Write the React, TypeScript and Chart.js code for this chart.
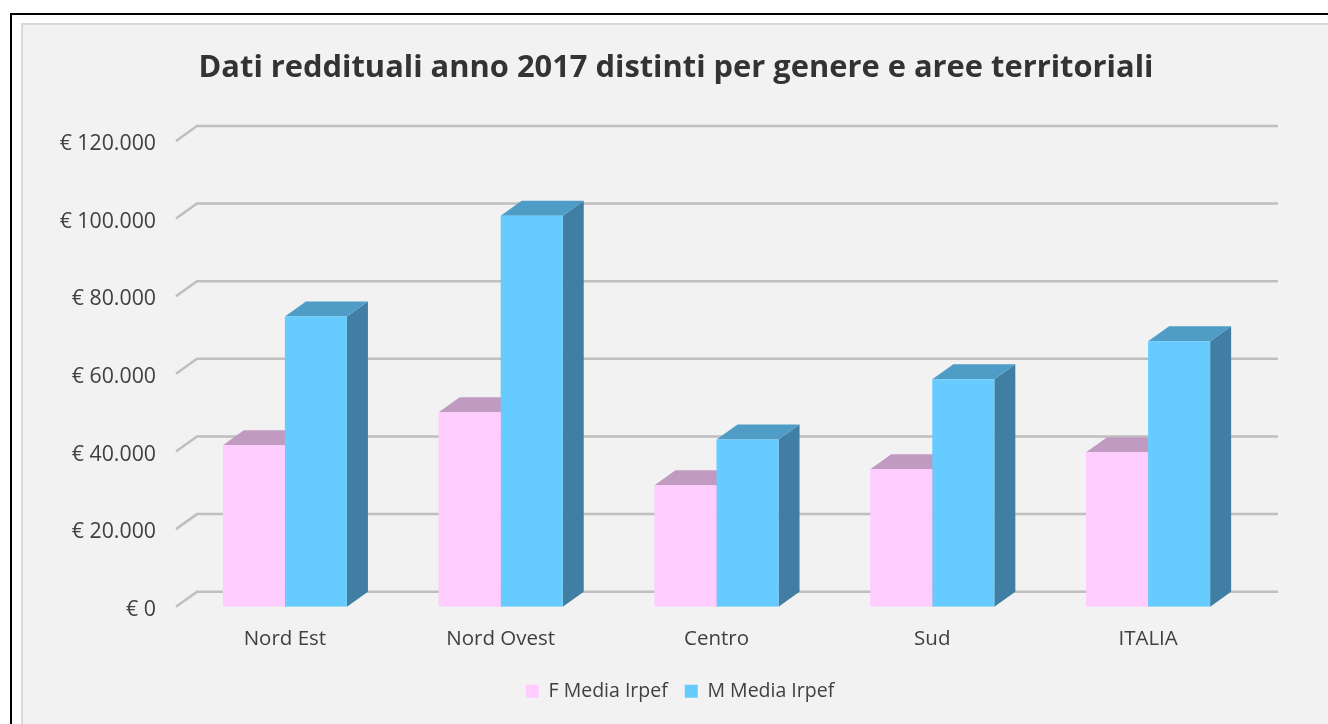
import React, { useEffect, useRef } from "react";
import { Chart, registerables } from "chart.js";

Chart.register(...registerables);

const categories = ["Nord Est", "Nord Ovest", "Centro", "Sud", "ITALIA"];
const femaleValues = [41600, 50100, 31300, 35400, 39800];
const maleValues = [74800, 100700, 43100, 58600, 68400];

const DEPTH_X = 21;
const DEPTH_Y = 15;

const faceColors = [
  { top: "#C09AC0", side: "#A884A8" },
  { top: "#4F9DC7", side: "#407FA3" },
];

const poly = (ctx: CanvasRenderingContext2D, pts: number[][], fill: string) => {
  ctx.beginPath();
  pts.forEach(([x, y], i) => (i ? ctx.lineTo(x, y) : ctx.moveTo(x, y)));
  ctx.closePath();
  ctx.fillStyle = fill;
  ctx.fill();
};

const depthPlugin = {
  id: "depth",
  afterLayout(chart: any) {
    chart.legend.left += 4;
    chart.legend.right += 4;
  },
  beforeDatasetsDraw(chart: any) {
    const { ctx, chartArea, scales } = chart;
    ctx.save();
    // back wall gridlines with their floor stubs
    scales.y.ticks.forEach((t: any) => {
      const y = scales.y.getPixelForValue(t.value);
      ctx.beginPath();
      ctx.moveTo(chartArea.left - 1, y);
      ctx.lineTo(chartArea.left + DEPTH_X - 1, y - DEPTH_Y);
      ctx.lineTo(chartArea.right + DEPTH_X + 1, y - DEPTH_Y);
      ctx.strokeStyle = "#BFBFBF";
      ctx.lineWidth = 2.5;
      ctx.stroke();
    });
    // top and side faces of the bars
    chart.data.datasets.forEach((_: any, di: number) => {
      chart.getDatasetMeta(di).data.forEach((bar: any) => {
        const p = bar.getProps(["x", "y", "base", "width"], true);
        const l = p.x - p.width / 2;
        const r = p.x + p.width / 2;
        poly(ctx, [[r, p.y], [r + DEPTH_X, p.y - DEPTH_Y], [r + DEPTH_X, p.base - DEPTH_Y], [r, p.base]], faceColors[di].side);
        poly(ctx, [[l, p.y], [l + DEPTH_X, p.y - DEPTH_Y], [r + DEPTH_X, p.y - DEPTH_Y], [r, p.y]], faceColors[di].top);
      });
    });
    ctx.restore();
  },
};

export default function App() {
  const ref = useRef<HTMLCanvasElement>(null);
  useEffect(() => {
    const chart = new Chart(ref.current!, {
      type: "bar",
      data: {
        labels: categories,
        datasets: [
          { label: "F Media Irpef", data: femaleValues, backgroundColor: "#FFCCFF" },
          { label: "M Media Irpef", data: maleValues, backgroundColor: "#66CCFF" },
        ],
      },
      plugins: [depthPlugin],
      options: {
        animation: false,
        responsive: false,
        devicePixelRatio: 1,
        layout: { padding: { left: 24, right: 0, top: 0, bottom: 13 } },
        datasets: { bar: { barPercentage: 1, categoryPercentage: 0.575 } },
        plugins: {
          title: {
            display: true,
            text: "Dati reddituali anno 2017 distinti per genere e aree territoriali",
            color: "#333333",
            font: { family: "'Open Sans'", size: 30.85, weight: "bold" },
            padding: { top: 50, bottom: 53.9 },
          },
          legend: {
            position: "bottom",
            labels: {
              color: "#404040",
              font: { family: "'Open Sans'", size: 19.5 },
              boxWidth: 13,
              boxHeight: 13,
              padding: 17,
            },
          },
          tooltip: { enabled: false },
        },
        scales: {
          x: {
            afterFit: (s: any) => { s.height = 57.75; },
            grid: { display: false, drawTicks: false },
            border: { display: false },
            ticks: { color: "#404040", font: { family: "'Open Sans'", size: 20.5 }, padding: 20, maxRotation: 0 },
          },
          y: {
            min: 0,
            max: 120000,
            afterFit: (s: any) => { s.width = 153; },
            grid: { display: false, drawTicks: false },
            border: { display: false },
            ticks: {
              stepSize: 20000,
              color: "#404040",
              font: { family: "'Open Sans'", size: 21.3 },
              padding: 21,
              labelOffset: 3,
              callback: (v: any) => "€ " + Number(v).toLocaleString("it-IT", { useGrouping: "always" } as any),
            },
          },
          rightGap: {
            position: "right",
            afterFit: (s: any) => { s.width = 72; },
            grid: { display: false, drawTicks: false },
            border: { display: false },
            ticks: { display: false },
          },
        },
      } as any,
    });
    return () => chart.destroy();
  }, []);

  return (
    <div style={{ position: "absolute", inset: 0, width: 1328, height: 724, overflow: "hidden", background: "#fff" }}>
      <div style={{ position: "absolute", left: 10, top: 13, width: 1400, height: 800, borderLeft: "2px solid #000", borderTop: "2px solid #000" }} />
      <div style={{ position: "absolute", left: 21, top: 23, width: 1400, height: 800, background: "#F2F2F2", borderLeft: "2px solid #D9D9D9", borderTop: "2px solid #D9D9D9" }} />
      <canvas ref={ref} width={1328} height={724} style={{ position: "absolute", left: 0, top: 0, width: 1328, height: 724 }} />
    </div>
  );
}
